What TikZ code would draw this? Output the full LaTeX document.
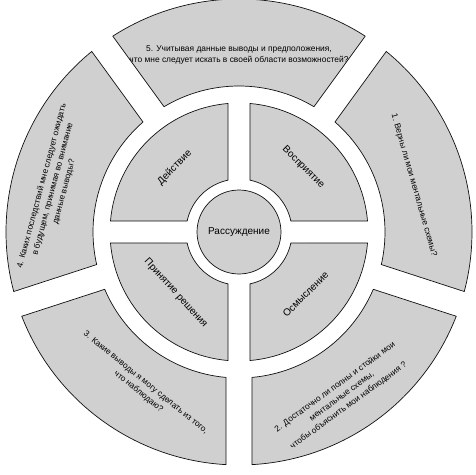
\documentclass[tikz,border=0pt]{standalone}
\usepackage{fontspec}
\setmainfont{Liberation Sans}
\usepackage{xcolor}
\usepackage{tikz}
\definecolor{segc}{HTML}{D0D0D0}
\definecolor{linec}{HTML}{111111}
\tikzset{
  seg/.style={draw=linec,line width=0.7pt,fill=segc},
  lbl/.style={font=\fontsize{10}{12}\selectfont,align=center,inner sep=1pt},
  qtxt/.style={font=\fontsize{8.4}{11.5}\selectfont,align=center,inner sep=1pt}
}
% segment of a ring with parallel gaps: start, end, inner r, outer r, half gap
\newcommand{\ringseg}[5]{%
  \pgfmathsetmacro{\aO}{asin(#5/#4)}%
  \pgfmathsetmacro{\aI}{asin(#5/#3)}%
  \draw[seg] (#1+\aO:#4) arc[start angle=#1+\aO,end angle=#2-\aO,radius=#4]
    -- (#2-\aI:#3) arc[start angle=#2-\aI,end angle=#1+\aI,radius=#3] -- cycle;
}
\begin{document}
\begin{tikzpicture}[x=1pt,y=1pt]
\useasboundingbox (-239,-242) rectangle (237,232);
% outer ring of questions
\foreach \s in {-18,54,126,198,270}{\ringseg{\s}{\s+72}{146}{233}{13}}
% four quadrants
\foreach \s in {0,90,180,270}{\ringseg{\s}{\s+90}{53}{129}{11}}
\node[seg,circle,minimum size=84,lbl] (hub) at (0,0) {Рассуждение};
\node[lbl,rotate=-45] (perc) at (45:91) {Восприятие};
\node[lbl,rotate=45] (act) at (135:91) {Действие};
\node[lbl,rotate=-48] (dec) at (224:88) {Принятие решения};
\node[lbl,rotate=45] (sense) at (317:91) {Осмысление};
% questions
\node[qtxt] (q5) at (90:177) {5. Учитывая данные выводы и предположения,\\что мне следует искать в своей области возможностей?};
\node[qtxt,rotate=-74] (q1) at (15:181) {1. Верны ли мои ментальные схемы?};
\node[qtxt,rotate=36] (q2) at (-58:194) {2. Достаточно ли полны и стойки мои\\ментальные схемы,\\чтобы объяснить мои наблюдения ?};
\node[qtxt,rotate=-39] (q3) at (238:183) {3. Какие выводы я могу сделать из того,\\что наблюдаю?};
\node[qtxt,rotate=75] (q4) at (167:191) {4. Каких последствий мне следует ожидать\\в будущем, принимая во внимание\\данные выводы?};
\end{tikzpicture}
\end{document}
